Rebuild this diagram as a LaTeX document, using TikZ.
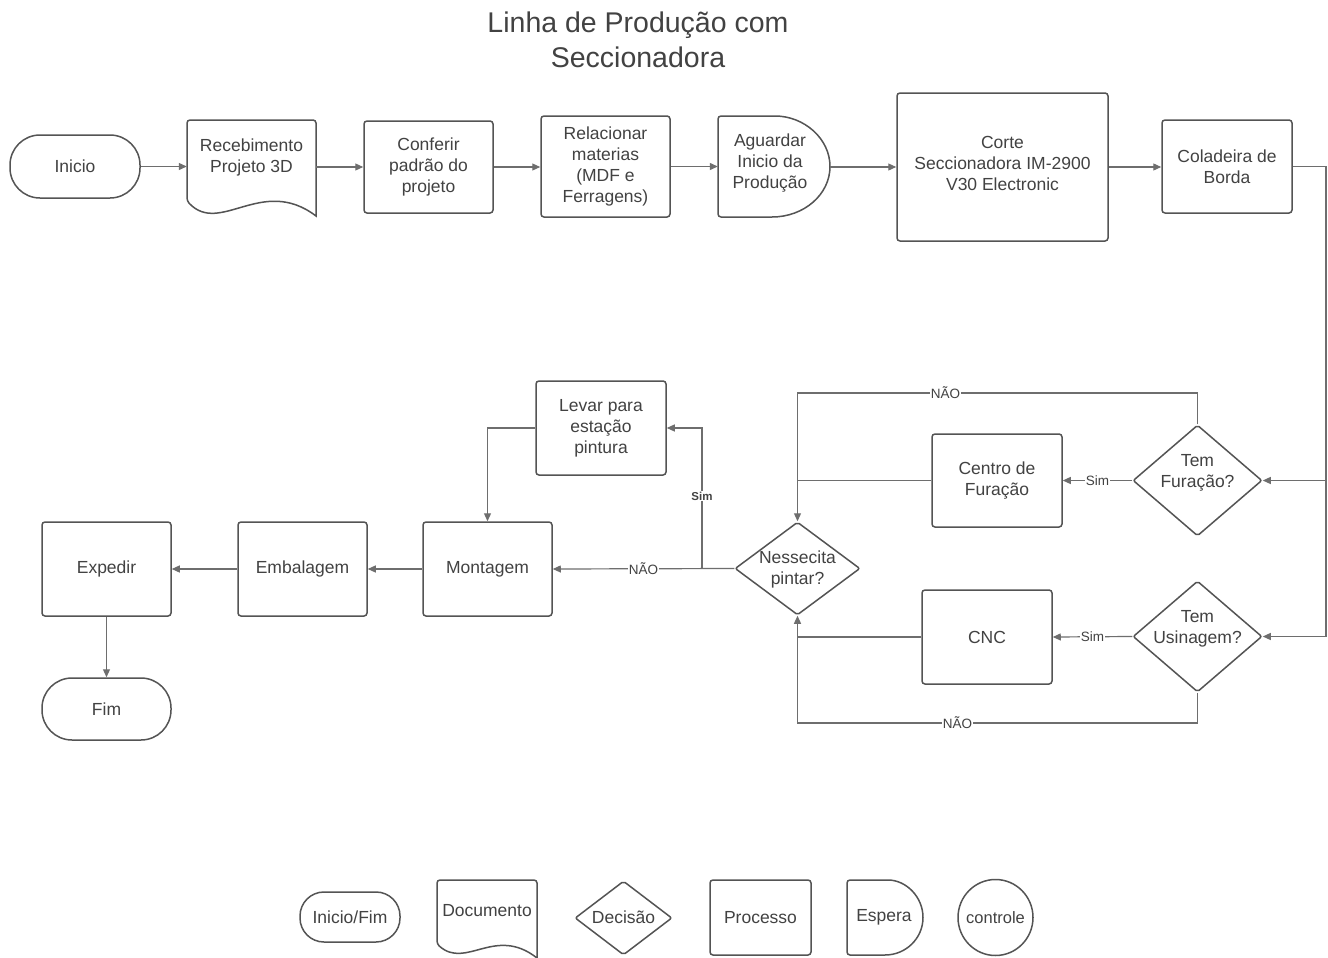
\documentclass[tikz,border=0pt]{standalone}
\usepackage{fontspec}
\setmainfont{Liberation Sans}
\usetikzlibrary{arrows.meta,shapes.geometric}
\definecolor{edgec}{HTML}{545454}
\definecolor{wirec}{HTML}{6E6E6E}
\definecolor{inkc}{HTML}{424242}
\begin{document}
\begin{tikzpicture}[x=1pt,y=-1pt,
  every node/.style={text=inkc, font=\fontsize{17.5}{21}\selectfont, align=center},
  bord/.style={draw=edgec, line width=1.5pt},
  proc/.style={bord, rounded corners=3pt, inner sep=0pt},
  term/.style={bord, rounded corners=30pt, inner sep=0pt},
  dec/.style={bord, diamond, rounded corners=2pt, inner sep=0pt},
  hold/.style={inner sep=0pt},
  conn/.style={draw=wirec, line width=1.2pt, -{Triangle[length=8pt,width=7pt]}},
  wireline/.style={draw=wirec, line width=1.2pt},
  lbl/.style={fill=white, inner sep=1pt, font=\fontsize{13.5}{15}\selectfont},
  lblb/.style={fill=white, inner sep=1pt, font=\fontsize{11.5}{13}\selectfont\bfseries}
]
\fill[white] (0,0) rectangle (1328,958);
\useasboundingbox (0,0) rectangle (1328,958);

% title
\node[font=\fontsize{28.5}{35}\selectfont, text=inkc] (title) at (638,40) {Linha de Produção com\\Seccionadora};

% top row
\node[term, minimum width=130pt, minimum height=63pt] (ini) at (75,166.5) {Inicio};

\draw[bord] (316,216) [rounded corners=3pt] -- (316,120) -- (187,120) -- (187,201) [sharp corners] .. controls (220,236) and (262,175) .. (316,216) -- cycle;
\node[hold, minimum width=129pt, minimum height=96pt] (doc) at (251.5,167) {};
\node (doctxt) at (251.5,157) {Recebimento\\Projeto 3D};

\node[proc, minimum width=129pt, minimum height=92pt] (conf) at (428.5,167) {Conferir\\padrão do\\projeto};
\node[proc, minimum width=129pt, minimum height=101pt] (rel) at (605.5,166.5) {Relacionar\\materias\\(MDF e\\Ferragens)};

\draw[bord] (772,217) [rounded corners=3pt] -- (718,217) -- (718,116) -- (772,116) [sharp corners] arc[start angle=90, end angle=-90, x radius=58pt, y radius=50.5pt] -- cycle;
\node[hold, minimum width=112pt, minimum height=101pt] (ag) at (774,166.5) {};
\node (agtxt) at (770,163) {Aguardar\\Inicio da\\Produção};

\node[proc, minimum width=211pt, minimum height=148pt] (corte) at (1002.5,167) {};
\node (cortetxt) at (1002.5,163) {Corte\\Seccionadora IM-2900\\V30 Electronic};
\node[proc, minimum width=130pt, minimum height=93pt] (col) at (1227,166.5) {Coladeira de\\Borda};

% decisions right
\node[dec, minimum width=129pt, minimum height=111pt] (f) at (1197.5,480.5) {};
\node (ftxt) at (1197.5,473) {Tem\\Furação?};
\node[dec, minimum width=129pt, minimum height=111pt] (u) at (1197.5,636.5) {};
\node (utxt) at (1197.5,629) {Tem\\Usinagem?};
\node[proc, minimum width=130pt, minimum height=93pt] (cf) at (997,480.5) {Centro de\\Furação};
\node[proc, minimum width=130pt, minimum height=94pt] (cnc) at (987,637) {CNC};
\node[dec, minimum width=125pt, minimum height=93pt] (np) at (797.5,568.5) {};
\node (nptxt) at (797.5,569) {Nessecita\\pintar?};

% bottom-left row
\node[proc, minimum width=130pt, minimum height=94pt] (lev) at (601,428) {Levar para\\estação\\pintura};
\node[proc, minimum width=129pt, minimum height=94pt] (mo) at (487.5,569) {Montagem};
\node[proc, minimum width=129pt, minimum height=94pt] (emb) at (302.5,569) {Embalagem};
\node[proc, minimum width=129pt, minimum height=94pt] (exp) at (106.5,569) {Expedir};
\node[term, minimum width=129pt, minimum height=62pt] (fim) at (106.5,709) {Fim};

% connectors top row
\draw[conn] (ini.east) -- (doc.west |- ini.east);
\draw[conn] (doc.east |- conf.west) -- (conf.west);
\draw[conn] (conf.east) -- (rel.west |- conf.east);
\draw[conn] (rel.east) -- (ag.west |- rel.east);
\draw[conn] (ag.east |- corte.west) -- (corte.west);
\draw[conn] (corte.east) -- (col.west |- corte.east);

% bus on the right
\coordinate (bus) at (1326,636.5);
\draw[conn] (col.east) -| (bus) -- (u.east);
\draw[conn] (f.east -| bus) -- (f.east);

% yes branches
\draw[conn] (f.west) -- node[lbl, pos=0.5] {Sim} (cf.east);
\draw[conn] (u.west) -- node[lbl, pos=0.5] {Sim} (cnc.east);
\draw[wireline] (cf.west) -- (cf.west -| np.north);
\draw[wireline] (cnc.west) -- (cnc.west -| np.south);

% no branches
\coordinate (ftop) at (1197.5,393);
\draw[conn] (f.north) -- (ftop) -- node[lbl, pos=0.63] {NÃO} (ftop -| np.north) -- (np.north);
\coordinate (ubot) at (1197.5,723);
\draw[conn] (u.south) -- (ubot) -- node[lbl, pos=0.6] {NÃO} (ubot -| np.south) -- (np.south);

% paint decision
\draw[conn] (np.west) -- node[lbl, pos=0.5] {NÃO} (mo.east);
\coordinate (sj) at (702,568.5);
\draw[conn] (sj) -- node[lblb, pos=0.516] {Sim} (sj |- lev.east) -- (lev.east);
\draw[conn] (lev.west) -| (mo.north);
\draw[conn] (mo.west) -- (emb.east);
\draw[conn] (emb.west) -- (exp.east);
\draw[conn] (exp.south) -- (fim.north);

% legend
\node[term, rounded corners=24pt, minimum width=100pt, minimum height=50pt] (lgterm) at (350,917) {Inicio/Fim};
\draw[bord] (537,958) [rounded corners=3pt] -- (537,880) -- (437,880) -- (437,944) [sharp corners] .. controls (466,970) and (495,925) .. (537,958) -- cycle;
\node[hold, minimum width=100pt, minimum height=78pt] (lgdoc) at (487,919) {};
\node (lgdoctxt) at (487,911) {Documento};
\node[dec, minimum width=97pt, minimum height=74pt] (lgdec) at (623.5,918) {};
\node (lgdectxt) at (623.5,917) {Decisão};
\node[proc, minimum width=101pt, minimum height=75pt] (lgproc) at (760.5,917.5) {Processo};
\draw[bord] (885,955) [rounded corners=3pt] -- (847,955) -- (847,880) -- (885,880) [sharp corners] arc[start angle=90, end angle=-90, x radius=38pt, y radius=37.5pt] -- cycle;
\node[hold, minimum width=76pt, minimum height=75pt] (lgesp) at (885,917.5) {};
\node (lgesptxt) at (884,917) {Espera};
\node[bord, ellipse, inner sep=0pt, minimum width=75pt, minimum height=76pt] (lgctl) at (995.5,917.5) {};
\node[font=\fontsize{16.5}{20}\selectfont] (lgctltxt) at (995.5,917.5) {controle};
\end{tikzpicture}
\end{document}
